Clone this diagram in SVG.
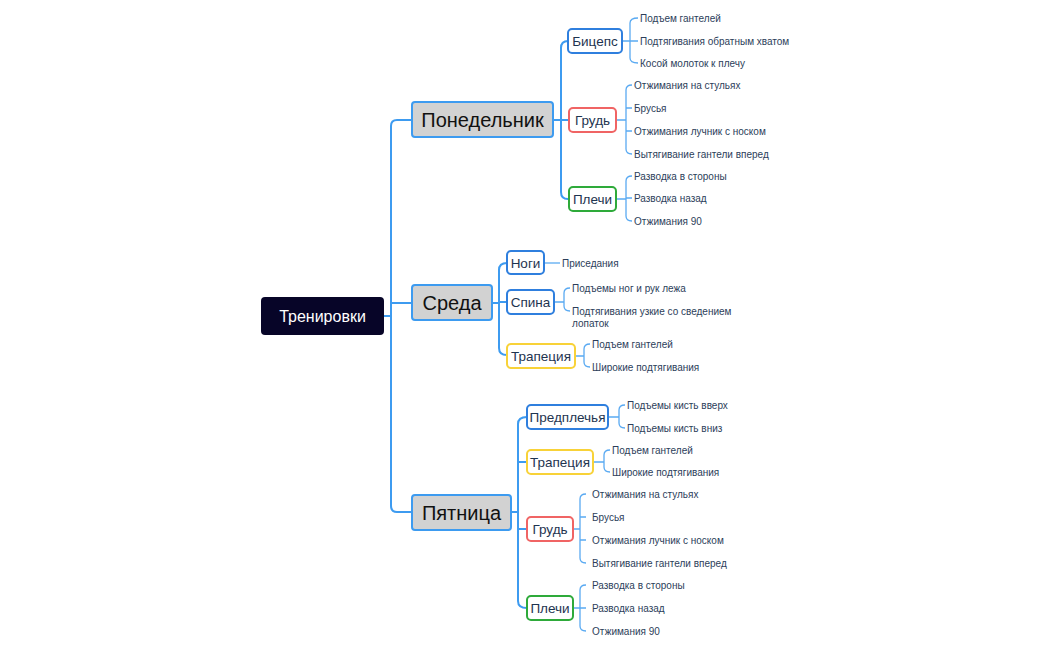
<svg xmlns="http://www.w3.org/2000/svg" width="1050" height="650" viewBox="0 0 1050 650">
<style>
.c{fill:none;stroke:#3d9bf0;stroke-width:2;stroke-linejoin:round}
.l{fill:none;stroke:#5aaaf2;stroke-width:1.3}
.day{fill:#d2d2d2;stroke:#3d9bf0;stroke-width:2}
.sb{fill:#fff;stroke-width:2}
.blue{stroke:#2f7fde}.red{stroke:#f06464}.green{stroke:#2eaa3a}.yellow{stroke:#f8d238}
text{font-family:"Liberation Sans",Arial,sans-serif;dominant-baseline:central}
.dt{font-size:20px;fill:#111;text-anchor:middle}
.st{font-size:13.5px;fill:#1e3450;text-anchor:middle}
.lt{font-size:10px;fill:#2c3e5a}
</style>
<rect width="1050" height="650" fill="#fff"/>
<g id="connectors">
<path class="c" d="M384 316H391M412 120H397Q391 120 391 126V506Q391 512 397 512H412M391 303H412"/>
<path class="c" d="M553 120H561M568 41Q561 41 561 48V192Q561 199 568 199M561 120H569"/>
<path class="c" d="M492 303H499M507 263Q499 263 499 270V348Q499 355 507 355M499 302H507"/>
<path class="c" d="M511 512H518M527 417Q518 417 518 424V601Q518 608 527 608M518 462H527M518 529H527"/>
<path class="l" d="M622 41H630M638 18Q630 18 630 23V58Q630 63 638 63M630 41H638"/>
<path class="l" d="M616 120H626M632 85Q626 85 626 90V149Q626 154 632 154M626 108H632M626 131H632"/>
<path class="l" d="M616 199H626M632 176Q626 176 626 181V216Q626 221 632 221M626 198H632"/>
<path class="l" d="M544 263H560"/>
<path class="l" d="M554 302H564M570 288Q564 288 564 293V306Q564 311 570 311"/>
<path class="l" d="M575 356H584M590 344Q584 344 584 349V362Q584 367 590 367"/>
<path class="l" d="M608 417H619M625 405Q619 405 619 410V423Q619 428 625 428"/>
<path class="l" d="M593 462H604M610 450Q604 450 604 455V467Q604 472 610 472"/>
<path class="l" d="M573 529H580M586 494Q580 494 580 499V558Q580 563 586 563M580 517H586M580 540H586"/>
<path class="l" d="M573 608H580M586 585Q580 585 580 590V626Q580 631 586 631M580 608H586"/>
</g>
<g id="root"><rect x="261" y="297" width="123" height="38" rx="4" fill="#070528"/><text x="322.5" y="316" font-size="16" fill="#fff" text-anchor="middle">Тренировки</text></g>
<g id="mon"><rect class="day" x="412" y="102" width="141" height="35" rx="3"/><text class="dt" x="482.5" y="120">Понедельник</text></g>
<g id="wed"><rect class="day" x="412" y="285" width="80" height="35" rx="3"/><text class="dt" x="452" y="303">Среда</text></g>
<g id="fri"><rect class="day" x="412" y="495" width="99" height="35" rx="3"/><text class="dt" x="461.5" y="513">Пятница</text></g>
<g id="mon-bic"><rect class="sb blue" x="568" y="29" width="54" height="24" rx="4"/><text class="st" x="595" y="41">Бицепс</text></g>
<g id="mon-chest"><rect class="sb red" x="569" y="108" width="47" height="24" rx="4"/><text class="st" x="592.5" y="120">Грудь</text></g>
<g id="mon-sh"><rect class="sb green" x="569" y="187" width="47" height="24" rx="4"/><text class="st" x="592.5" y="199">Плечи</text></g>
<g id="wed-legs"><rect class="sb blue" x="507" y="251" width="37" height="23" rx="4"/><text class="st" x="525.5" y="263">Ноги</text></g>
<g id="wed-back"><rect class="sb blue" x="507" y="290" width="47" height="24" rx="4"/><text class="st" x="530.5" y="302">Спина</text></g>
<g id="wed-trap"><rect class="sb yellow" x="507" y="344" width="68" height="24" rx="4"/><text class="st" x="541" y="356">Трапеция</text></g>
<g id="fri-fore"><rect class="sb blue" x="527" y="405" width="81" height="24" rx="4"/><text class="st" x="567.5" y="417">Предплечья</text></g>
<g id="fri-trap"><rect class="sb yellow" x="527" y="450" width="66" height="24" rx="4"/><text class="st" x="560" y="462">Трапеция</text></g>
<g id="fri-chest"><rect class="sb red" x="527" y="517" width="46" height="24" rx="4"/><text class="st" x="550" y="529">Грудь</text></g>
<g id="fri-sh"><rect class="sb green" x="527" y="596" width="46" height="24" rx="4"/><text class="st" x="550" y="608">Плечи</text></g>
<g id="leaves">
<text class="lt" x="640" y="18">Подъем гантелей</text>
<text class="lt" x="640" y="41">Подтягивания обратным хватом</text>
<text class="lt" x="640" y="63">Косой молоток к плечу</text>
<text class="lt" x="634" y="85">Отжимания на стульях</text>
<text class="lt" x="634" y="108">Брусья</text>
<text class="lt" x="634" y="131">Отжимания лучник с носком</text>
<text class="lt" x="634" y="154">Вытягивание гантели вперед</text>
<text class="lt" x="634" y="176">Разводка в стороны</text>
<text class="lt" x="634" y="198">Разводка назад</text>
<text class="lt" x="634" y="221">Отжимания 90</text>
<text class="lt" x="562" y="263">Приседания</text>
<text class="lt" x="572" y="288">Подъемы ног и рук лежа</text>
<text class="lt" x="572" y="311">Подтягивания узкие со сведением</text>
<text class="lt" x="572" y="323">лопаток</text>
<text class="lt" x="592" y="344">Подъем гантелей</text>
<text class="lt" x="592" y="367">Широкие подтягивания</text>
<text class="lt" x="627" y="405">Подъемы кисть вверх</text>
<text class="lt" x="627" y="428">Подъемы кисть вниз</text>
<text class="lt" x="612" y="450">Подъем гантелей</text>
<text class="lt" x="612" y="472">Широкие подтягивания</text>
<text class="lt" x="592" y="494">Отжимания на стульях</text>
<text class="lt" x="592" y="517">Брусья</text>
<text class="lt" x="592" y="540">Отжимания лучник с носком</text>
<text class="lt" x="592" y="563">Вытягивание гантели вперед</text>
<text class="lt" x="592" y="585">Разводка в стороны</text>
<text class="lt" x="592" y="608">Разводка назад</text>
<text class="lt" x="592" y="631">Отжимания 90</text>
</g>
</svg>
